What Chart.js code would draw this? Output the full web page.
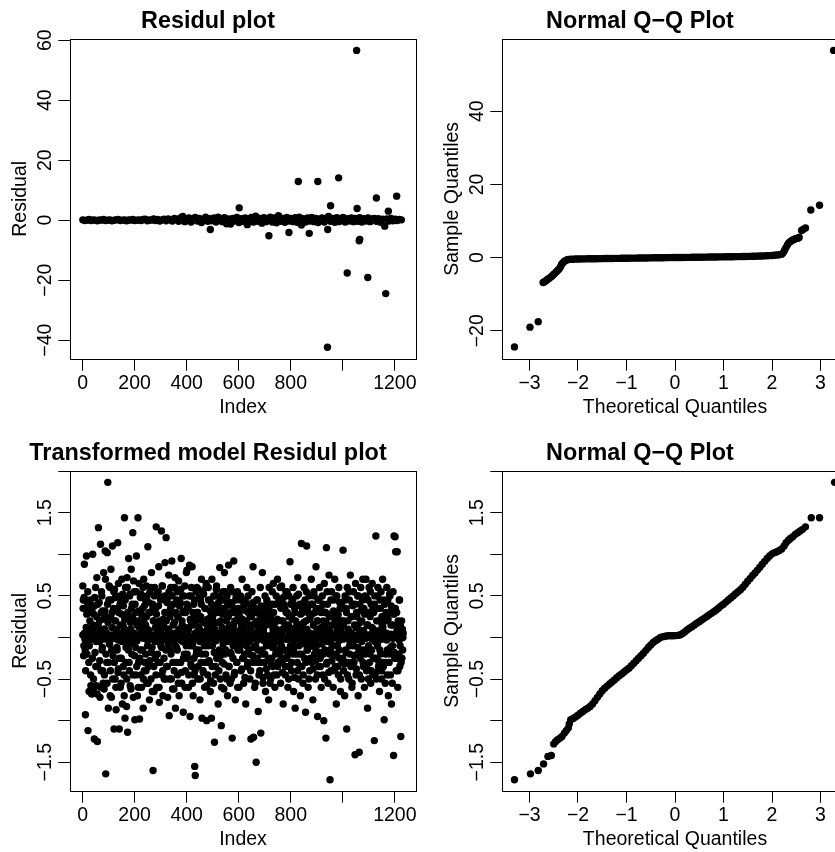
<!DOCTYPE html>
<html>
<head>
<meta charset="utf-8">
<script src="https://cdn.jsdelivr.net/npm/chart.js@4.4.1/dist/chart.umd.min.js"></script>
<style>
  html, body { margin: 0; padding: 0; background: #fff; }
  body { position: relative; width: 835px; height: 852px; overflow: hidden; }
  canvas { position: absolute; }
</style>
</head>
<body>
<canvas id="p1" width="486" height="432" style="left:0;top:0"></canvas>
<canvas id="p2" width="486" height="432" style="left:432px;top:0"></canvas>
<canvas id="p3" width="486" height="432" style="left:0;top:432px"></canvas>
<canvas id="p4" width="486" height="432" style="left:432px;top:432px"></canvas>
<script>
(function () {
  'use strict';

  // ---- data ----
  const BAND_STEP = 8;   // index spacing of the near-zero band samples
  const RES_STEP = 2;    // index spacing of the transformed residuals

  // Panel 1: residuals near zero (index 1, 9, 17, ...)
  const band1 = [
    0.1,-0.1,0,0.2,-0.1,0.1,0,-0.2,0.1,0,
    0.2,-0.1,0,0.1,-0.2,0,0.1,0.2,-0.1,0,
    0.1,-0.2,0.1,0,0.2,-0.1,0,0.1,-0.1,0.2,
    0.3,-0.2,0.1,0,0.4,-0.1,0.2,-0.3,0.1,0.3,
    -0.2,0.4,0.1,-0.3,0.6,0.2,-0.4,0.8,1.2,-0.5,
    0.3,0.7,-0.6,0.4,0.9,-0.3,0.6,-0.8,0.2,1.0,
    -0.4,0.5,-0.2,0.7,-0.6,1.0,0.3,-0.5,0.8,-1.2,
    0.4,-1.3,0.6,-0.3,0.9,-0.8,0.5,-0.4,0.7,-1.5,
    0.5,0.9,-0.6,1.3,-0.4,0.6,-1.0,0.8,-0.5,0.4,
    1.0,-0.6,0.7,-0.9,1.5,-0.4,0.6,-0.7,0.9,-0.3,
    0.6,-0.5,0.8,-0.7,1.0,-1.6,0.5,-0.6,0.7,-0.3,
    0.9,-0.5,0.6,-0.8,0.4,0.7,-0.6,0.5,1.2,-0.4,
    0.6,-0.7,0.8,-0.5,0.4,0.9,-0.6,0.5,-0.3,0.7,
    -0.5,0.6,-0.4,0.8,-0.6,0.5,-0.3,0.7,-0.5,0.4,
    0.6,-0.4,0.5,-0.7,0.3,-2.0,0.4,-0.3,0.6,-0.2,
    0.3,-0.1,0.2,0.1
  ];
  // Panel 1: larger residuals [index, residual]
  const outliers1 = [
    [491,-3.1],[602,4.1],[716,-5.2],[793,-4.1],[829,12.9],[871,-4.4],
    [904,12.9],[941,-42.4],[942,-3.1],[953,4.8],[984,14.1],[1017,-17.6],
    [1053,56.6],[1055,3.9],[1063,-6.9],[1065,-6.4],[1096,-19.1],[1129,7.4],
    [1165,-24.5],[1175,3.0],[1207,8.0]
  ];

  // Panel 2: normal Q-Q of the residuals [theoretical, sample]
  const qq1 = [
    [-3.31,-24.4],[-2.99,-19.0],[-2.82,-17.5],
    [-2.72,-6.8],[-2.69,-6.6],[-2.66,-6.3],[-2.63,-6.0],[-2.60,-5.7],[-2.57,-5.4],
    [-2.54,-5.1],[-2.51,-4.7],[-2.48,-4.3],[-2.45,-3.9],[-2.42,-3.5],[-2.39,-3.1],
    [-2.36,-2.5],[-2.34,-1.9],[-2.31,-1.4],[-2.28,-1.0],[-2.25,-0.75],[-2.22,-0.6],
    [-2.20,-0.52],[-2.15,-0.47],[-2.10,-0.43],[-2.05,-0.40],[-2.00,-0.38],[-1.95,-0.36],
    [-1.90,-0.35],[-1.85,-0.34],[-1.80,-0.33],[-1.75,-0.32],[-1.70,-0.31],[-1.65,-0.30],
    [-1.60,-0.29],[-1.55,-0.28],[-1.50,-0.27],[-1.45,-0.26],[-1.40,-0.25],[-1.35,-0.24],
    [-1.30,-0.23],[-1.25,-0.22],[-1.20,-0.21],[-1.15,-0.20],[-1.10,-0.19],[-1.05,-0.18],
    [-1.00,-0.17],[-0.95,-0.16],[-0.90,-0.15],[-0.85,-0.14],[-0.80,-0.13],[-0.75,-0.12],
    [-0.70,-0.11],[-0.65,-0.10],[-0.60,-0.09],[-0.55,-0.08],[-0.50,-0.07],[-0.45,-0.06],
    [-0.40,-0.05],[-0.35,-0.04],[-0.30,-0.03],[-0.25,-0.02],[-0.20,-0.01],[-0.15,0.0],
    [-0.10,0.0],[-0.05,0.01],[0.00,0.01],[0.05,0.02],[0.10,0.03],[0.15,0.04],
    [0.20,0.05],[0.25,0.06],[0.30,0.07],[0.35,0.08],[0.40,0.09],[0.45,0.10],
    [0.50,0.11],[0.55,0.12],[0.60,0.13],[0.65,0.14],[0.70,0.15],[0.75,0.16],
    [0.80,0.17],[0.85,0.18],[0.90,0.19],[0.95,0.20],[1.00,0.21],[1.05,0.22],
    [1.10,0.23],[1.15,0.24],[1.20,0.25],[1.25,0.26],[1.30,0.27],[1.35,0.28],
    [1.40,0.30],[1.45,0.31],[1.50,0.33],[1.55,0.34],[1.60,0.36],[1.65,0.38],
    [1.70,0.40],[1.75,0.42],[1.80,0.45],[1.85,0.48],[1.90,0.51],[1.95,0.55],
    [2.00,0.59],[2.05,0.64],[2.10,0.70],[2.15,0.78],[2.20,0.9],
    [2.23,1.3],[2.26,2.0],[2.29,2.8],[2.32,3.5],[2.35,4.1],[2.38,4.4],[2.41,4.7],
    [2.44,4.9],[2.47,5.1],[2.50,5.2],[2.53,5.3],[2.56,5.5],
    [2.61,7.4],[2.64,7.7],[2.69,8.1],[2.80,13.0],[2.98,14.3],[3.27,56.6]
  ];

  // Panel 3: transformed model residuals, odd indices (1, 3, 5, ...)
  const res2odd = [
    0.62,0.45,-0.1,0.88,0.05,-0.93,0.35,0.98,-0.2,0.42,-1.12,0.1,-0.65,0.3,0.0,-0.45,0.38,-0.68,0.15,1.0,
    -0.62,0.28,-1.22,0.48,0.12,-0.35,-0.58,0.72,-1.25,0.4,1.32,-0.05,0.2,-0.72,1.12,-0.4,0.55,-0.15,0.32,-0.55,
    0.78,-0.62,0.1,1.04,-1.64,0.25,-0.3,1.02,1.865,-0.85,0.45,-0.08,0.6,-0.4,0.82,-0.72,0.12,1.1,-0.22,0.35,
    -1.1,0.58,-0.5,0.2,-0.87,0.5,-0.15,1.14,-0.38,0.3,-1.1,0.05,-0.6,0.45,-0.25,0.7,-0.8,0.15,0.38,-0.45,
    1.44,-0.97,0.6,-0.12,-0.83,0.72,-1.14,0.25,0.95,-0.3,0.5,-0.58,0.1,0.82,-0.2,0.4,1.26,-0.72,0.0,0.55,
    -0.99,0.3,-0.45,0.98,0.15,-0.7,1.44,-0.3,0.65,-0.98,0.2,-0.15,0.52,-0.6,0.08,0.35,-0.85,0.7,-0.4,0.25,
    0.45,-0.2,0.62,-0.55,0.1,1.09,-0.35,0.3,-0.75,0.55,0.02,-0.5,0.78,-0.12,0.4,-1.6,0.2,-0.65,0.6,-0.25,
    0.35,1.33,-0.6,0.08,0.55,-0.3,0.85,-0.78,0.2,0.48,-0.1,1.28,-0.45,0.62,-0.7,0.15,-0.25,0.5,0.9,-0.5,
    1.2,-0.35,0.45,-0.72,0.1,0.75,-0.94,0.3,-0.15,0.6,-0.5,0.92,0.05,-0.3,0.4,-0.62,0.18,0.72,-0.85,0.3,
    -0.12,0.55,-0.45,0.25,0.68,-0.7,0.1,0.42,-0.3,0.95,-0.55,0.15,0.5,-0.9,0.3,-0.2,0.62,-0.4,0.05,0.78,
    0.81,-0.25,0.35,-0.6,0.12,0.87,-0.95,0.2,0.5,-0.35,0.85,-0.1,-0.7,0.4,-0.45,-1.55,-1.66,0.25,-0.2,0.6,
    0.3,-0.5,0.58,-0.15,0.1,-0.75,0.45,-0.3,0.7,-0.97,0.2,-0.4,0.52,0.05,-0.6,0.35,-0.2,0.65,-1.0,0.15,
    -0.45,0.6,0.1,-0.3,0.45,-0.65,0.25,-0.97,0.7,-0.1,0.38,-0.55,0.18,-1.26,0.5,-0.35,0.05,0.62,-0.25,0.3,
    -0.8,0.42,-0.15,0.84,-0.5,0.2,-1.06,0.35,-0.3,0.55,0.0,-0.62,0.78,-0.2,0.3,-0.45,0.1,0.5,-0.7,0.25,
    0.87,-0.35,0.15,-0.55,0.6,-0.2,0.4,-1.21,0.3,-0.1,0.92,-0.45,0.2,-0.75,0.45,0.05,-0.3,0.55,-0.15,0.35,
    -0.6,0.25,-0.1,0.5,-0.4,0.15,0.7,-0.25,0.35,-0.55,0.1,-0.2,0.45,-0.8,0.2,0.6,-0.35,0.05,0.3,-0.15,
    0.4,-0.5,0.1,-1.22,0.25,0.55,-0.3,0.85,-1.2,0.15,-0.6,0.35,-0.1,-1.5,0.45,-0.25,0.2,-0.89,0.05,0.3,
    -0.4,0.6,-1.15,0.2,-0.2,0.78,-0.55,0.1,0.35,-0.3,0.5,-0.65,0.15,-0.1,0.42,-0.45,0.25,-0.75,0.6,-0.05,
    0.3,-0.5,0.15,-0.25,0.55,-0.35,0.65,-0.1,0.2,-0.6,0.4,-0.15,0.1,-0.45,0.7,-0.3,0.05,0.45,-0.2,0.6,
    -0.55,0.2,0.62,-0.3,0.1,-0.8,0.4,-0.15,0.35,-0.45,0.55,0.0,-0.25,0.3,-0.6,0.15,0.5,-0.35,0.91,-0.1,
    0.25,-0.4,0.45,-0.2,0.6,-0.65,0.1,0.35,-0.85,0.2,-0.1,0.5,-0.3,0.72,-0.5,0.15,-0.2,0.4,-0.7,0.05,
    1.13,-0.35,0.3,-0.55,0.1,0.6,-0.25,0.45,-0.9,0.2,1.1,-0.15,0.35,-0.6,0.05,0.5,-0.4,0.25,-0.1,0.7,
    -0.3,0.4,-0.75,0.15,0.55,-0.2,0.3,-0.5,0.85,-0.1,0.2,-0.95,0.45,-0.35,0.1,0.6,-0.25,0.35,-0.6,0.05,
    0.5,-0.45,0.2,-1.0,0.65,-0.15,0.3,-1.21,1.08,-0.3,0.4,-0.55,0.1,0.75,-0.2,-1.71,0.25,-0.4,0.55,-0.1,
    0.3,-0.6,0.45,-0.2,0.7,-0.35,0.15,-0.8,0.5,-0.1,0.25,-0.45,0.6,-0.25,0.35,-0.65,0.1,0.4,-0.3,0.2,
    1.05,-0.4,0.2,-0.7,0.5,-0.15,0.35,-1.1,0.6,-0.3,0.1,-0.5,0.45,-0.2,0.75,-0.35,0.25,-0.6,0.4,-0.1,
    0.55,-0.3,0.15,-1.41,0.65,-0.45,0.3,-0.2,0.5,-0.7,0.1,-1.38,0.4,-0.25,0.6,-0.5,0.2,-0.15,0.7,-0.35,
    0.35,-0.6,0.5,-0.2,0.7,-0.4,0.15,-0.85,0.45,-0.1,0.6,-0.3,0.25,-0.55,0.4,-0.15,0.65,-0.45,0.1,0.3,
    -1.24,0.5,-0.25,1.22,-0.5,0.35,-0.1,0.6,-0.35,0.2,-0.65,0.45,-0.2,0.55,-0.4,0.15,0.7,-0.3,0.25,-0.99,
    0.4,-0.55,0.2,-0.3,0.6,-0.15,0.45,-0.7,0.3,-0.2,0.5,-0.45,0.15,-0.8,0.35,-0.1,0.55,-1.42,1.22,-0.25,
    1.21,1.03,-0.4,0.3,1.03,-0.6,0.2,-0.2,0.45,-0.35,0.15,-1.19,0.05,-0.25,0.1,0.0
  ];
  // Panel 3: transformed model residuals, even indices (2, 4, 6, ...)
  const res2even = [
    0.35,-0.22,0.48,0.05,-0.15,-0.4,0.12,0.28,-0.05,0.55,0.4,-0.3,-0.1,0.2,0.45,-0.58,0.02,0.33,-0.25,0.15,
    -0.5,0.1,0.38,-0.18,0.6,-0.05,0.25,-0.68,-0.35,0.15,0.0,0.42,-0.28,0.08,-0.6,0.3,0.5,-0.12,-0.4,0.22,
    0.1,-0.45,0.32,0.7,-0.2,0.05,-0.55,0.4,0.18,-0.3,0.62,-0.08,-0.7,0.25,0.45,-0.15,0.3,-0.5,0.02,0.55,
    -0.3,0.2,0.48,-0.6,0.1,-0.12,0.35,-0.42,0.65,0.0,-0.25,0.4,0.15,-0.55,0.28,-0.05,0.52,-0.35,0.12,-0.7,
    0.22,0.45,-0.3,0.08,-0.5,0.6,0.3,-0.15,0.02,-0.4,0.52,0.18,-0.62,0.35,-0.08,0.25,-0.45,0.68,0.05,-0.22,
    0.4,-0.12,0.55,-0.35,0.2,0.0,-0.6,0.32,0.12,-0.25,0.48,-0.45,0.28,0.05,-0.15,0.6,-0.5,0.18,0.38,-0.3,
    0.15,-0.4,0.25,0.5,-0.1,-0.55,0.42,0.08,-0.28,0.3,0.6,-0.18,0.0,-0.65,0.35,0.2,-0.35,0.5,-0.05,0.12,
    -0.45,0.28,0.05,-0.2,0.55,0.38,-0.6,0.15,-0.3,0.45,0.1,-0.12,0.62,-0.4,0.22,0.0,-0.5,0.3,0.48,-0.15,
    0.2,0.42,-0.35,0.1,-0.08,0.55,-0.5,0.25,0.35,-0.2,0.0,0.5,-0.62,0.15,0.3,-0.4,0.6,-0.1,0.05,-0.3,
    0.45,-0.15,0.25,-0.55,0.1,0.38,-0.3,0.02,0.58,-0.42,0.2,-0.05,0.32,-0.25,0.5,0.12,-0.6,0.3,-0.1,0.4,
    -0.2,0.35,0.08,-0.45,0.5,-0.1,0.22,-0.32,0.6,0.0,-0.55,0.3,0.15,-0.25,0.45,-0.4,0.05,0.55,-0.15,0.2,
    0.3,-0.35,0.12,0.48,-0.05,-0.5,0.25,0.4,-0.2,0.02,0.55,-0.42,0.18,-0.1,0.35,-0.3,0.6,0.08,-0.58,0.22,
    -0.1,0.45,-0.28,0.15,0.32,-0.52,0.05,0.4,-0.35,0.25,-0.02,0.5,-0.18,0.1,-0.45,0.3,0.58,-0.25,0.02,0.35,
    0.18,-0.4,0.5,0.05,-0.22,0.35,-0.6,0.12,0.28,-0.08,0.45,-0.32,0.0,0.55,-0.15,0.2,-0.5,0.38,-0.05,0.25,
    -0.35,0.1,0.42,-0.18,0.3,-0.5,0.02,0.55,-0.25,0.15,0.35,-0.42,0.08,-0.1,0.48,-0.3,0.2,-0.6,0.25,0.05,
    0.3,-0.15,0.45,-0.05,0.12,-0.38,0.22,0.0,-0.25,0.4,0.08,-0.48,0.18,0.32,-0.1,0.02,-0.3,0.5,0.1,-0.2,
    -0.05,0.25,-0.4,0.15,0.35,0.0,-0.22,0.42,-0.12,0.05,0.3,-0.55,0.18,-0.3,0.02,0.45,-0.15,0.1,-0.45,0.28,
    0.12,-0.3,0.38,0.0,-0.15,0.25,-0.48,0.05,0.32,-0.2,0.15,0.02,-0.38,0.45,-0.08,0.2,-0.25,0.35,0.0,-0.55,
    0.25,0.02,-0.32,0.4,-0.12,0.1,0.3,-0.45,0.0,0.18,-0.2,0.5,-0.05,0.22,-0.35,0.08,0.42,-0.15,0.02,-0.28,
    0.35,-0.1,0.05,-0.42,0.2,0.48,-0.25,0.0,0.15,-0.35,0.3,-0.02,0.55,-0.18,0.1,-0.5,0.25,0.02,-0.12,0.4,
    0.0,-0.3,0.22,0.45,-0.15,0.05,-0.48,0.3,0.12,-0.2,0.38,0.0,-0.4,0.15,0.52,-0.1,0.02,-0.35,0.28,0.08,
    -0.2,0.35,0.0,-0.45,0.18,0.42,-0.08,0.02,-0.3,0.55,0.1,-0.15,0.3,0.0,-0.5,0.22,0.05,-0.25,0.4,-0.05,
    0.28,0.0,-0.38,0.15,0.5,-0.12,0.02,-0.28,0.35,0.08,-0.45,0.2,0.0,0.45,-0.18,0.05,-0.35,0.3,0.12,-0.08,
    0.02,0.4,-0.2,0.1,-0.5,0.3,0.0,0.18,-0.32,0.55,-0.05,0.02,-0.42,0.25,0.08,-0.15,0.45,0.0,-0.28,0.15,
    -0.1,0.32,0.02,-0.4,0.2,0.0,0.5,-0.22,0.08,-0.35,0.28,0.02,-0.15,0.42,0.0,-0.5,0.18,0.05,0.35,-0.25,
    0.15,0.0,-0.32,0.45,0.02,-0.18,0.3,0.0,-0.45,0.2,0.05,0.55,-0.1,0.0,-0.3,0.25,0.02,-0.55,0.38,0.0,
    0.02,-0.22,0.4,0.0,0.12,-0.38,0.25,0.02,-0.12,0.5,0.0,-0.45,0.18,0.05,0.32,-0.2,0.0,0.45,-0.3,0.08,
    0.0,0.28,-0.15,0.02,0.48,-0.35,0.0,0.15,-0.5,0.3,0.02,-0.2,0.55,0.0,-0.4,0.12,0.05,0.35,-0.25,0.0,
    0.4,-0.05,0.02,-0.42,0.2,0.0,0.5,-0.28,0.08,0.0,-0.15,0.35,0.02,-0.5,0.25,0.0,0.12,-0.35,0.45,0.02,
    0.0,-0.2,0.3,0.05,-0.45,0.0,0.22,0.02,-0.3,0.52,0.0,-0.12,0.38,0.02,-0.55,0.15,0.0,0.28,-0.18,0.02,
    0.35,0.0,-0.25,0.08,0.02,-0.4,0.15,0.0,0.45,-0.1,0.02,-0.3,0.2,0.0,-0.15,0.05
  ];
  // Panel 3: the dense line of near-zero residuals (index 1, 9, 17, ...)
  const band2 = [
    0.03,-0.02,0.05,-0.04,0.01,0.04,-0.03,0.02,-0.05,0.0,
    -0.02,0.04,0.01,-0.04,0.03,-0.01,0.05,-0.03,0.02,-0.02,
    0.01,-0.05,0.03,0.0,-0.02,0.04,-0.04,0.02,0.05,-0.01,
    0.02,-0.03,0.04,-0.02,0.0,0.03,-0.05,0.01,0.04,-0.03,
    -0.01,0.05,-0.02,0.03,-0.04,0.01,0.02,-0.03,0.04,0.0,
    0.03,-0.02,0.01,-0.04,0.05,-0.01,0.02,-0.03,0.0,0.04,
    -0.03,0.02,0.04,-0.01,-0.04,0.03,0.01,-0.02,0.05,-0.03,
    0.0,0.03,-0.02,0.04,-0.05,0.02,-0.01,0.03,-0.03,0.01,
    0.04,-0.02,0.0,0.05,-0.03,0.01,0.03,-0.04,0.02,-0.01,
    -0.02,0.04,-0.03,0.01,0.03,-0.05,0.02,0.0,-0.02,0.04,
    0.01,-0.03,0.05,-0.01,0.02,-0.04,0.03,0.0,-0.03,0.02,
    0.04,-0.01,-0.03,0.02,0.0,0.05,-0.02,0.03,-0.04,0.01,
    -0.01,0.03,0.02,-0.04,0.04,-0.02,0.0,0.03,-0.03,0.05,
    0.02,-0.03,0.01,0.04,-0.05,0.02,-0.01,0.03,0.0,-0.02,
    0.03,0.01,-0.04,0.02,-0.02,0.05,-0.03,0.01,0.04,-0.01,
    0.0,0.02,-0.03,0.03
  ];

  // Panel 4: normal Q-Q of the transformed residuals [theoretical, sample]
  const qq2 = [
    [-3.31,-1.71],[-2.98,-1.64],[-2.82,-1.60],[-2.71,-1.52],[-2.62,-1.43],[-2.55,-1.42],
    [-2.50,-1.28],[-2.46,-1.25],[-2.42,-1.23],[-2.37,-1.21],[-2.33,-1.19],[-2.28,-1.15],
    [-2.24,-1.12],[-2.20,-1.09],[-2.18,-1.04],
    [-2.15,-0.99],[-2.10,-0.975],[-2.05,-0.955],[-2.00,-0.935],[-1.95,-0.91],[-1.90,-0.89],
    [-1.85,-0.87],[-1.80,-0.85],[-1.75,-0.83],[-1.70,-0.80],[-1.65,-0.76],[-1.60,-0.72],
    [-1.55,-0.68],[-1.50,-0.64],[-1.45,-0.61],[-1.40,-0.585],[-1.35,-0.56],[-1.30,-0.535],
    [-1.25,-0.51],[-1.20,-0.485],[-1.15,-0.46],[-1.10,-0.44],[-1.05,-0.415],[-1.00,-0.39],
    [-0.95,-0.37],[-0.90,-0.34],[-0.85,-0.31],[-0.80,-0.28],[-0.75,-0.25],[-0.70,-0.22],
    [-0.65,-0.19],[-0.60,-0.155],[-0.55,-0.12],[-0.50,-0.09],[-0.45,-0.06],[-0.40,-0.04],
    [-0.35,-0.02],[-0.30,0.0],[-0.25,0.01],[-0.20,0.015],[-0.15,0.02],[-0.10,0.02],
    [-0.05,0.02],[0.00,0.022],[0.05,0.025],[0.10,0.03],[0.15,0.045],[0.20,0.065],
    [0.25,0.09],[0.30,0.11],[0.35,0.13],[0.40,0.15],[0.45,0.17],[0.50,0.19],
    [0.55,0.21],[0.60,0.23],[0.65,0.25],[0.70,0.27],[0.75,0.29],[0.80,0.31],
    [0.85,0.33],[0.90,0.355],[0.95,0.38],[1.00,0.40],[1.05,0.425],[1.10,0.45],
    [1.15,0.475],[1.20,0.50],[1.25,0.525],[1.30,0.55],[1.35,0.575],[1.40,0.605],
    [1.45,0.64],[1.50,0.675],[1.55,0.71],[1.60,0.745],[1.65,0.775],[1.70,0.81],
    [1.75,0.845],[1.80,0.88],[1.85,0.915],[1.90,0.95],[1.95,0.98],[2.00,1.005],
    [2.05,1.02],[2.10,1.03],[2.15,1.045],[2.20,1.065],
    [2.25,1.10],[2.29,1.14],[2.34,1.17],[2.38,1.19],[2.43,1.21],[2.48,1.24],
    [2.53,1.26],[2.58,1.28],[2.63,1.30],[2.69,1.33],[2.81,1.44],[2.98,1.44],[3.29,1.865]
  ];

  // axis limits as drawn by R (data range + 4%)
  const indexLim = [-48.24, 1281.24];
  const qqLim = [-3.567, 3.567];
  const resLim1 = [-46.3, 60.5];
  const qqLim1 = [-27.7, 59.8];
  const resLim2 = [-1.846, 2.005];

  // ---- helpers ----
  const FONT = '"Liberation Sans", Arial, Helvetica, sans-serif';
  const MINUS = '\u2212';

  function fmt(v) {
    return String(v).replace('-', MINUS);
  }

  function stepped(values, first, step) {
    return values.map(function (v, i) { return { x: first + i * step, y: v }; });
  }

  function pairs(list) {
    return list.map(function (p) { return { x: p[0], y: p[1] }; });
  }

  // R draws a full box around the plot region
  const boxPlugin = {
    id: 'rbox',
    afterDraw: function (chart) {
      const a = chart.chartArea;
      const ctx = chart.ctx;
      ctx.save();
      ctx.strokeStyle = '#000';
      ctx.lineWidth = 1;
      ctx.strokeRect(Math.round(a.left) + 0.5, Math.round(a.top) + 0.5,
        Math.round(a.right - a.left), Math.round(a.bottom - a.top));
      ctx.restore();
    }
  };

  function panel(id, cfg) {
    const tickFont = { family: FONT, size: 19.5 };
    return new Chart(document.getElementById(id), {
      type: 'scatter',
      data: {
        datasets: cfg.series.map(function (d) {
          return {
            data: d,
            backgroundColor: '#000',
            borderWidth: 0,
            pointRadius: 3.7,
            pointHoverRadius: 3.7,
          };
        }),
      },
      options: {
        responsive: false,
        animation: false,
        events: [],
        layout: { padding: { top: 7.66, right: 70, bottom: 0, left: 0 } },
        plugins: {
          legend: { display: false },
          tooltip: { enabled: false },
          title: {
            display: true,
            text: cfg.title,
            color: '#000',
            font: { family: FONT, size: 23.4, weight: 'bold' },
            padding: { top: 0, bottom: 2.96 },
          },
        },
        scales: {
          x: {
            type: 'linear',
            position: 'bottom',
            min: cfg.xLim[0],
            max: cfg.xLim[1],
            afterFit: function (s) { s.height = 73; },
            border: { display: false },
            grid: { drawOnChartArea: false, drawTicks: true, tickLength: 11.7, color: '#000', lineWidth: 1 },
            ticks: {
              stepSize: cfg.xStep,
              includeBounds: false,
              autoSkip: false,
              maxRotation: 0,
              padding: 1,
              color: '#000',
              font: tickFont,
              callback: cfg.xLabel,
            },
            title: { display: true, text: cfg.xTitle, color: '#000', font: tickFont, padding: { top: 0, bottom: 12.3 } },
          },
          y: {
            type: 'linear',
            position: 'left',
            min: cfg.yLim[0],
            max: cfg.yLim[1],
            afterFit: function (s) { s.width = 70; },
            border: { display: false },
            grid: { drawOnChartArea: false, drawTicks: true, tickLength: 11.7, color: '#000', lineWidth: 1 },
            ticks: {
              stepSize: cfg.yStep,
              includeBounds: false,
              autoSkip: false,
              minRotation: 90,
              maxRotation: 90,
              crossAlign: 'center',
              padding: cfg.yPad,
              color: '#000',
              font: tickFont,
              callback: cfg.yLabel,
            },
            title: { display: true, text: cfg.yTitle, color: '#000', font: tickFont, padding: { top: 9, bottom: 0 } },
          },
        },
      },
      plugins: [boxPlugin],
    });
  }

  const indexLabel = function (v) { return v === 1000 ? '' : fmt(v); };
  const allLabel = function (v) { return fmt(v); };
  const halfLabel = function (v) {
    return Math.abs(Math.round(v * 2)) % 2 === 1 ? fmt(v) : '';
  };

  panel('p1', {
    title: 'Residul plot',
    series: [stepped(band1, 1, BAND_STEP), pairs(outliers1)],
    xLim: indexLim, xStep: 200, xLabel: indexLabel, xTitle: 'Index',
    yLim: resLim1, yStep: 20, yLabel: allLabel, yTitle: 'Residual', yPad: -3.9,
  });

  panel('p2', {
    title: 'Normal Q' + MINUS + 'Q Plot',
    series: [pairs(qq1)],
    xLim: qqLim, xStep: 1, xLabel: allLabel, xTitle: 'Theoretical Quantiles',
    yLim: qqLim1, yStep: 20, yLabel: allLabel, yTitle: 'Sample Quantiles', yPad: -3.9,
  });

  panel('p3', {
    title: 'Transformed model Residul plot',
    series: [
      stepped(band2, 1, BAND_STEP),
      stepped(res2odd, 1, RES_STEP),
      stepped(res2even, 2, RES_STEP),
    ],
    xLim: indexLim, xStep: 200, xLabel: indexLabel, xTitle: 'Index',
    yLim: resLim2, yStep: 0.5, yLabel: halfLabel, yTitle: 'Residual', yPad: -6.65,
  });

  panel('p4', {
    title: 'Normal Q' + MINUS + 'Q Plot',
    series: [pairs(qq2)],
    xLim: qqLim, xStep: 1, xLabel: allLabel, xTitle: 'Theoretical Quantiles',
    yLim: resLim2, yStep: 0.5, yLabel: halfLabel, yTitle: 'Sample Quantiles', yPad: -6.65,
  });
})();
</script>
</body>
</html>
